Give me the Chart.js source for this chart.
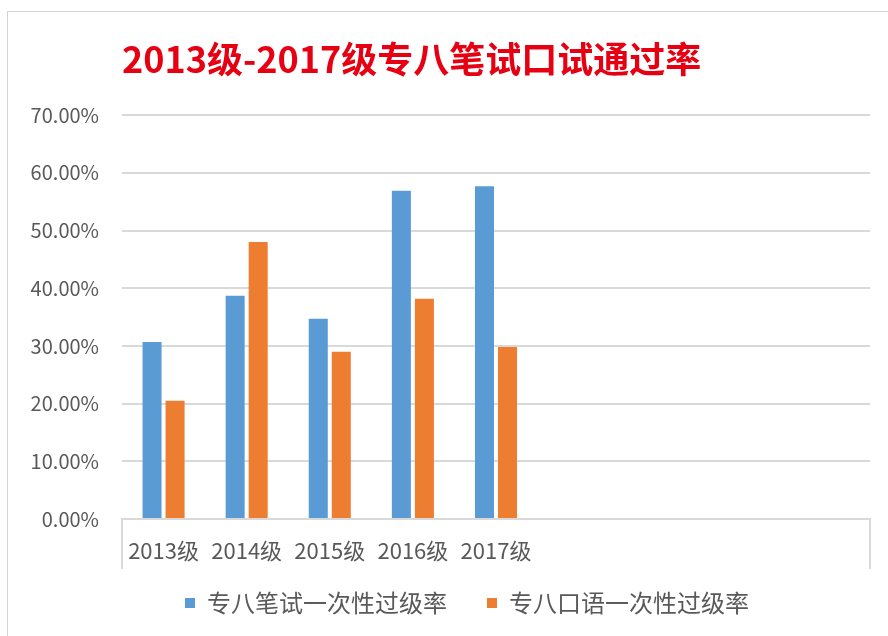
<!DOCTYPE html>
<html>
<head>
<meta charset="utf-8">
<script src="https://cdn.jsdelivr.net/npm/chart.js@4.4.1/dist/chart.umd.min.js"></script>
<style>
  body { margin: 0; background: #fff; overflow: hidden; }
  #frame { position: absolute; left: 7px; top: 11px; width: 900px; height: 640px; border: 1px solid #d4d4d4; }
  #wrap { position: absolute; left: 0; top: 0; width: 905px; height: 636px; }
</style>
</head>
<body>
<div id="frame"></div>
<div id="wrap"><canvas id="chart" width="905" height="636"></canvas></div>
<script>
// categories (the source sheet had 4 trailing blank rows)
const classes = ["2013级", "2014级", "2015级", "2016级", "2017级", "", "", "", ""];
const writtenPass = [30.7, 38.7, 34.7, 56.9, 57.7]; // 专八笔试一次性过级率 (%)
const oralPass = [20.5, 48.0, 29.0, 38.2, 29.8];    // 专八口语一次性过级率 (%)
const yTicks = [0, 10, 20, 30, 40, 50, 60, 70];

const FONT = "'Noto Sans CJK SC', 'Noto Sans', sans-serif";
const GRID = "#d9d9d9";
const TEXT = "#595959";

new Chart(document.getElementById("chart"), {
  type: "bar",
  data: {
    labels: classes,
    datasets: [
      {
        label: "专八笔试一次性过级率",
        data: writtenPass,
        backgroundColor: "#5b9bd5",
        categoryPercentage: 0.554,
        barPercentage: 0.826,
      },
      {
        label: "专八口语一次性过级率",
        data: oralPass,
        backgroundColor: "#ed7d31",
        categoryPercentage: 0.554,
        barPercentage: 0.826,
      },
    ],
  },
  options: {
    responsive: false,
    animation: false,
    layout: { padding: { left: 29, right: 0, top: 0, bottom: 11 } },
    plugins: {
      title: {
        display: true,
        text: "2013级-2017级专八笔试口试通过率",
        color: "#e60012",
        align: "start",
        fullSize: false,
        font: { family: FONT, size: 36, weight: "bold" },
        padding: { top: 38, bottom: 34 },
      },
      legend: {
        position: "bottom",
        labels: {
          color: TEXT,
          boxWidth: 10,
          boxHeight: 10,
          padding: 40,
          font: { family: FONT, size: 24 },
        },
      },
      tooltip: { enabled: false },
    },
    scales: {
      x: {
        grid: {
          drawOnChartArea: false,
          drawTicks: true,
          tickLength: 50,
          lineWidth: 2,
          // only the two outer tick marks, like the Excel axis box
          color: (c) => (c.index === 0 || c.type !== "tick" ? GRID : "rgba(0,0,0,0)"),
        },
        border: { color: GRID, width: 2 },
        ticks: {
          color: TEXT,
          mirror: true,
          padding: -45,
          autoSkip: false,
          maxRotation: 0,
          font: { family: FONT, size: 22 },
        },
        afterFit: (scale) => { scale.height = 32; },
      },
      y: {
        min: 0,
        max: 70,
        afterBuildTicks: (scale) => { scale.ticks = yTicks.map((v) => ({ value: v })); },
        grid: { color: GRID, lineWidth: 2, drawTicks: false },
        border: { display: false },
        ticks: {
          color: TEXT,
          padding: 23,
          font: { family: FONT, size: 20 },
          callback: (v) => v.toFixed(2) + "%",
        },
        afterFit: (scale) => { scale.width = 93; },
      },
      // empty spacer on the right so the legend centres like the original
      spacer: {
        position: "right",
        grid: { display: false },
        border: { display: false },
        ticks: { display: false },
        afterFit: (scale) => { scale.width = 35; },
      },
    },
  },
});
</script>
</body>
</html>
